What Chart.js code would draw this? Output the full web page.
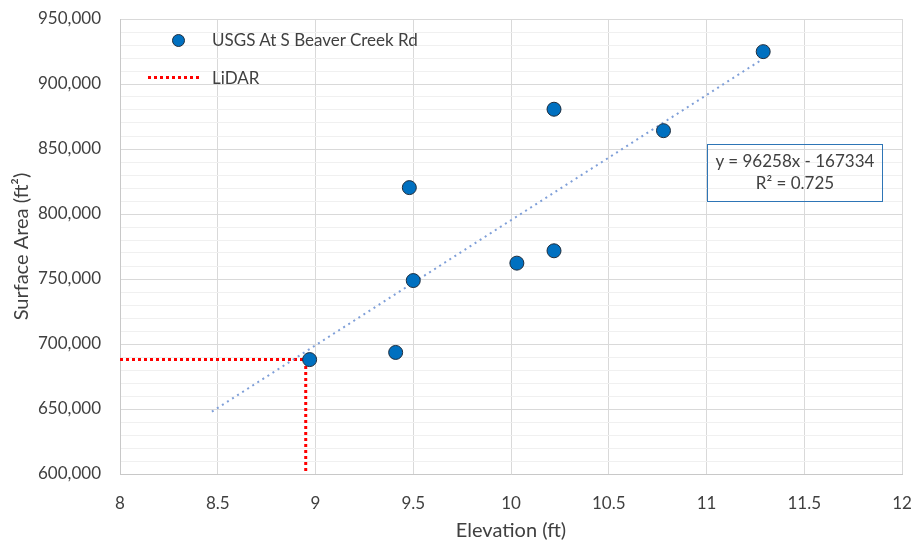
<!DOCTYPE html>
<html>
<head>
<meta charset="utf-8">
<script src="https://cdn.jsdelivr.net/npm/chart.js@4/dist/chart.umd.min.js"></script>
<style>
    body { margin: 0; background: #fff; font-family: Lato, "Open Sans", sans-serif; }
    #wrap { position: relative; width: 914px; height: 541px; }
    .legend-row { position: absolute; left: 0; font-size: 17px; color: #404040; }
    .legend-text { position: absolute; left: 212px; white-space: nowrap; }
    #eq-box {
        position: absolute; left: 707px; top: 144px; width: 174px; height: 51px;
        border: 1.5px solid #2e75b6; color: #404040; font-size: 17px;
        text-align: center; line-height: 22px; padding-top: 5px; box-sizing: content-box;
    }
</style>
</head>
<body>
<div id="wrap">
    <canvas id="chart" width="914" height="541"></canvas>
    <div class="legend-row" style="top:31px;">
        <div style="position:absolute; left:172px; top:3px; width:11px; height:11px; border-radius:50%; background:#0070c0; border:1px solid #1f2d3d;"></div>
        <span class="legend-text" style="top:-2px;">USGS At S Beaver Creek Rd</span>
    </div>
    <div class="legend-row" style="top:69px;">
        <div style="position:absolute; left:148px; top:7px; width:54px; height:3px; background:repeating-linear-gradient(to right, #ff0000 0 3px, transparent 3px 6px);"></div>
        <span class="legend-text" style="top:-2px;">LiDAR</span>
    </div>
    <div id="eq-box">y = 96258x - 167334<br>R² = 0.725</div>
</div>
<script>
// measured points
const elevation = [8.97, 9.41, 9.48, 9.50, 10.03, 10.22, 10.22, 10.78, 11.29];
const surfaceArea = [688000, 693500, 820300, 748800, 762200, 771700, 880600, 864100, 924900];

// LiDAR reference lines
const lidarX = [8.0, 8.95, 8.95];
const lidarY = [688000, 688000, 600000];

// linear trendline (from the displayed equation)
const trendSlope = 96258;
const trendIntercept = -167334;
const trendRangeX = [8.47, 11.28];

const xTicks = { min: 8, max: 12, step: 0.5 };
const yTicks = { min: 600000, max: 950000, major: 50000, minor: 10000 };

const toPoints = (xs, ys) => xs.map((x, i) => ({ x: x, y: ys[i] }));
const trendPoints = trendRangeX.map(x => ({ x: x, y: trendSlope * x + trendIntercept }));

const labelColor = '#404040';
const majorGrid = '#d9d9d9';
const minorGrid = '#f0f0f0';
const tickFont = { family: 'Lato', size: 17 };
const titleFont = { family: 'Lato', size: 20, lineHeight: 1 };

new Chart(document.getElementById('chart'), {
    type: 'scatter',
    data: {
        datasets: [
            {
                label: 'USGS At S Beaver Creek Rd',
                data: toPoints(elevation, surfaceArea),
                backgroundColor: '#0070c0',
                borderColor: '#1f2d3d',
                borderWidth: 1,
                pointRadius: 7,
                order: 0
            },
            {
                label: 'Linear trend',
                data: trendPoints,
                type: 'line',
                showLine: true,
                borderColor: '#7f9fd8',
                borderWidth: 2,
                borderDash: [2, 4],
                pointRadius: 0,
                fill: false,
                order: 1
            },
            {
                label: 'LiDAR',
                data: toPoints(lidarX, lidarY),
                type: 'line',
                showLine: true,
                borderColor: '#ff0000',
                borderWidth: 3,
                borderDash: [3, 3],
                pointRadius: 0,
                fill: false,
                order: 2
            }
        ]
    },
    options: {
        responsive: false,
        animation: false,
        layout: { padding: { left: 0, top: 19, right: 12, bottom: 0 } },
        plugins: { legend: { display: false }, tooltip: { enabled: false } },
        scales: {
            x: {
                type: 'linear',
                min: xTicks.min,
                max: xTicks.max,
                ticks: {
                    stepSize: xTicks.step,
                    color: labelColor,
                    font: tickFont,
                    padding: 19,
                    maxRotation: 0,
                    callback: v => String(v)
                },
                grid: { color: majorGrid, drawTicks: false },
                border: { color: '#c8c8c8' },
                title: {
                    display: true,
                    text: 'Elevation (ft)',
                    color: labelColor,
                    font: titleFont,
                    padding: { top: 0, bottom: 0 }
                },
                afterFit: scale => {
                    scale.height = 67;
                    scale.paddingLeft = 0;
                    scale.paddingRight = 0;
                }
            },
            y: {
                type: 'linear',
                min: yTicks.min,
                max: yTicks.max,
                ticks: {
                    stepSize: yTicks.minor,
                    autoSkip: false,
                    maxTicksLimit: 100,
                    color: labelColor,
                    font: tickFont,
                    padding: 19,
                    callback: v => v % yTicks.major === 0 ? v.toLocaleString('en-US') : ''
                },
                grid: {
                    color: ctx => ctx.tick && ctx.tick.value % yTicks.major === 0 ? majorGrid : minorGrid,
                    drawTicks: false
                },
                border: { color: '#c8c8c8' },
                title: {
                    display: true,
                    text: 'Surface Area (ft²)',
                    color: labelColor,
                    font: titleFont,
                    padding: { top: 12, bottom: 0 }
                },
                afterFit: scale => {
                    scale.width = 120;
                    scale.paddingTop = 0;
                    scale.paddingBottom = 0;
                }
            }
        }
    }
});
</script>
</body>
</html>
